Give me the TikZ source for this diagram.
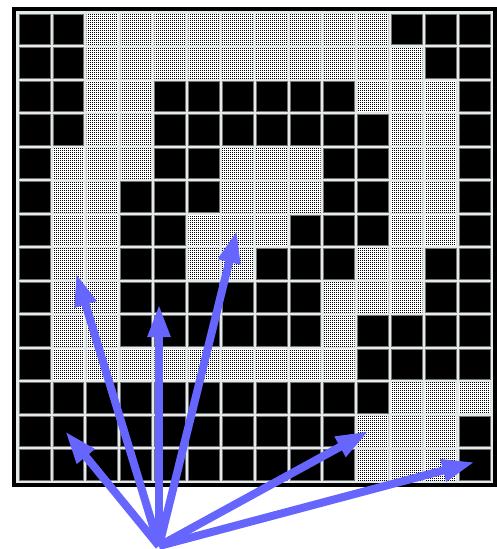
\documentclass[tikz,border=0pt]{standalone}
\usetikzlibrary{arrows.meta,patterns}
\pgfdeclarepatternformonly{finedots}{\pgfqpoint{0pt}{0pt}}{\pgfqpoint{1pt}{1pt}}{\pgfqpoint{2pt}{2pt}}{\pgfpathrectangle{\pgfqpoint{0pt}{0pt}}{\pgfqpoint{1pt}{1pt}}\pgfusepath{fill}}
\definecolor{gridline}{HTML}{E4EAEA}
\definecolor{vecblue}{HTML}{6666FF}

\begin{document}
\begin{tikzpicture}[x=1pt,y=-1pt,
		celllt/.style={fill=white,postaction={pattern=finedots}},
		cellblk/.style={fill=black,draw=black!55,line width=0.6pt},
		vec/.style={-{Triangle[length=33pt,width=21pt]},line width=8pt,draw=vecblue,line cap=butt}
	]
	\useasboundingbox (0,0) rectangle (496,549);
	% frame and grid
	\fill[black] (12,7) rectangle (497,487);
	\fill[gridline] (16,11) rectangle (493,483);
	\foreach \r in {1,...,14}
		\foreach \c in {1,...,14}
			\path[celllt] (16+\c*33.86-30.86,11+\r*33.5-30.5) rectangle (16+\c*33.86,11+\r*33.5);
	% black cells, row by row
	\foreach \r/\cs in {1/{1,2,12,13,14},2/{1,2,13,14},3/{1,2,5,6,7,8,9,10,14},
			4/{1,2,5,6,7,8,9,10,11,14},5/{1,5,6,10,11,14},6/{1,4,5,6,10,11,14},
			7/{1,4,5,9,10,11,14},8/{1,4,5,8,9,10,13,14},9/{1,4,5,6,7,8,9,13,14},
			10/{1,4,5,6,7,8,9,11,12,13,14},11/{1,11,12,13,14},12/{1,2,3,4,5,6,7,8,9,10,11},
			13/{1,2,3,4,5,6,7,8,9,10,14},14/{1,2,3,4,5,6,7,8,9,10,14}}
		\foreach \c in \cs
			\path[cellblk] (16+\c*33.86-30.86,11+\r*33.5-30.5) rectangle (16+\c*33.86,11+\r*33.5);
	% vectors
	\coordinate (o) at (159,546);
	\coordinate (t1) at (65,431);
	\coordinate (t2) at (76,273);
	\coordinate (t3) at (159,304);
	\coordinate (t4) at (237,230);
	\coordinate (t5) at (369,431);
	\coordinate (t6) at (475,462);
	\foreach \t in {t1,t2,t3,t4,t5,t6}
		\draw[vec] (o) -- (\t);
\end{tikzpicture}
\end{document}
